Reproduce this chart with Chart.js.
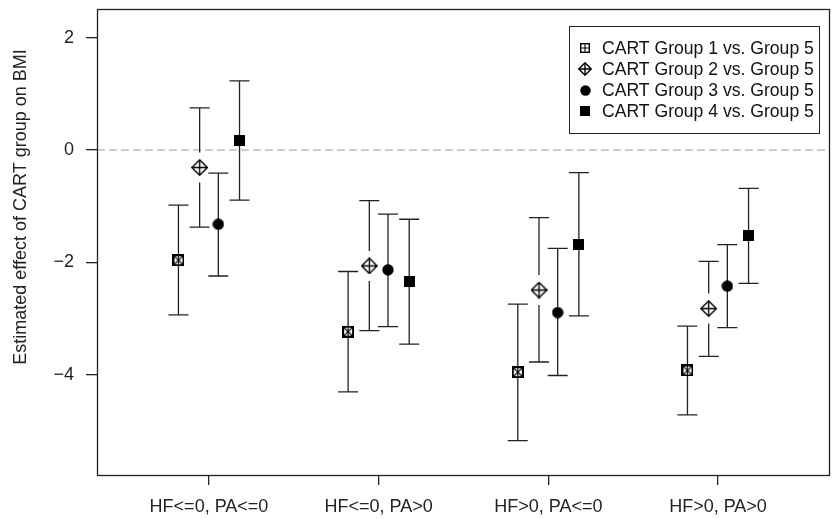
<!DOCTYPE html>
<html>
<head>
    <title>CART group effects on BMI</title>
    <script src="https://cdn.jsdelivr.net/npm/chart.js"></script>
    <style>
        html, body { margin: 0; padding: 0; background: white; overflow: hidden; }
        #wrap { width: 832px; height: 519px; overflow: hidden; }
        canvas { display: block; }
    </style>
</head>
<body>
    <div id="wrap">
        <canvas id="effectChart" width="837" height="519"></canvas>
    </div>

    <script>
        // categories and estimates (with 95% interval bounds) per CART group
        const categories = ['HF<=0, PA<=0', 'HF<=0, PA>0', 'HF>0, PA<=0', 'HF>0, PA>0'];
        const groupNames = ['CART Group 1 vs. Group 5', 'CART Group 2 vs. Group 5', 'CART Group 3 vs. Group 5', 'CART Group 4 vs. Group 5'];

        const est1 = [-1.96, -3.23, -3.95, -3.92];
        const lo1  = [-2.93, -4.30, -5.17, -4.71];
        const hi1  = [-0.98, -2.16, -2.74, -3.13];

        const est2 = [-0.31, -2.06, -2.49, -2.82];
        const lo2  = [-1.37, -3.21, -3.77, -3.67];
        const hi2  = [0.75, -0.90, -1.20, -1.98];

        const est3 = [-1.32, -2.13, -2.89, -2.42];
        const lo3  = [-2.24, -3.14, -4.01, -3.16];
        const hi3  = [-0.41, -1.14, -1.75, -1.68];

        const est4 = [0.17, -2.33, -1.68, -1.52];
        const lo4  = [-0.89, -3.45, -2.95, -2.37];
        const hi4  = [1.23, -1.23, -0.40, -0.68];

        const yTicks = [-4, -2, 0, 2];

        // dodge of each group around its category
        const dodge = [-0.18, -0.055, 0.055, 0.18];
        const FONT = '"Liberation Sans", Arial, sans-serif';

        // small canvases used as point symbols
        function makeMarker(kind, size) {
            const c = document.createElement('canvas');
            c.width = size; c.height = size;
            const g = c.getContext('2d');
            const m = size / 2;
            g.strokeStyle = '#000'; g.fillStyle = '#000';
            if (kind === 'boxX' || kind === 'boxPlus') {
                g.lineWidth = kind === 'boxX' ? 2 : 1.4;
                const o = g.lineWidth / 2;
                g.strokeRect(o, o, size - 2 * o, size - 2 * o);
                g.lineWidth = 1.1;
                g.beginPath();
                if (kind === 'boxX') {
                    g.moveTo(1, 1); g.lineTo(size - 1, size - 1);
                    g.moveTo(size - 1, 1); g.lineTo(1, size - 1);
                } else {
                    g.moveTo(m, 1); g.lineTo(m, size - 1);
                    g.moveTo(1, m); g.lineTo(size - 1, m);
                }
                g.stroke();
            } else if (kind === 'diamond') {
                g.lineWidth = 1.4;
                g.beginPath();
                g.moveTo(m, 0.8); g.lineTo(size - 0.8, m); g.lineTo(m, size - 0.8); g.lineTo(0.8, m); g.closePath();
                g.stroke();
                g.beginPath();
                g.moveTo(m, 1); g.lineTo(m, size - 1);
                g.moveTo(1, m); g.lineTo(size - 1, m);
                g.stroke();
            } else if (kind === 'circle') {
                g.beginPath(); g.arc(m, m, m - 0.3, 0, Math.PI * 2); g.fill();
            } else {
                g.fillRect(0, 0, size, size);
            }
            return c;
        }

        const plotMarkers = [makeMarker('boxX', 12), makeMarker('diamond', 17), makeMarker('circle', 12), makeMarker('square', 11)];
        const legendMarkers = [makeMarker('boxPlus', 10), makeMarker('diamond', 14), makeMarker('circle', 11), makeMarker('square', 10)];

        const estimates = [est1, est2, est3, est4];
        const lows = [lo1, lo2, lo3, lo4];
        const highs = [hi1, hi2, hi3, hi4];

        const datasets = estimates.map((est, g) => ({
            label: groupNames[g],
            data: est.map((v, i) => ({ x: i + 1 + dodge[g], y: v })),
            pointStyle: plotMarkers[g],
            pointRadius: 6,
            showLine: false
        }));

        // whiskers with caps, drawn under the symbols
        const errorBars = {
            id: 'errorBars',
            beforeDatasetsDraw(chart) {
                const ctx = chart.ctx;
                const ys = chart.scales.y;
                ctx.save();
                ctx.strokeStyle = '#222';
                ctx.lineWidth = 1.3;
                chart.data.datasets.forEach((ds, g) => {
                    const meta = chart.getDatasetMeta(g);
                    meta.data.forEach((pt, i) => {
                        const x = pt.x;
                        const yHi = ys.getPixelForValue(highs[g][i]);
                        const yLo = ys.getPixelForValue(lows[g][i]);
                        const yMid = ys.getPixelForValue(estimates[g][i]);
                        ctx.beginPath();
                        if (g === 1) {
                            // open diamond keeps a gap round it
                            ctx.moveTo(x, yHi); ctx.lineTo(x, yMid - 15);
                            ctx.moveTo(x, yMid + 15); ctx.lineTo(x, yLo);
                        } else {
                            ctx.moveTo(x, yHi); ctx.lineTo(x, yLo);
                        }
                        ctx.moveTo(x - 10, yHi); ctx.lineTo(x + 10, yHi);
                        ctx.moveTo(x - 10, yLo); ctx.lineTo(x + 10, yLo);
                        ctx.stroke();
                    });
                });
                ctx.restore();
            }
        };

        // frame, zero reference line, y title and legend
        const decorations = {
            id: 'decorations',
            beforeDatasetsDraw(chart) {
                const ctx = chart.ctx;
                const a = chart.chartArea;
                const y0 = chart.scales.y.getPixelForValue(0);
                ctx.save();
                ctx.strokeStyle = '#bdbdbd';
                ctx.lineWidth = 1.5;
                ctx.setLineDash([8, 4]);
                ctx.beginPath();
                ctx.moveTo(a.left, y0); ctx.lineTo(a.right, y0);
                ctx.stroke();
                ctx.restore();
            },
            afterDraw(chart) {
                const ctx = chart.ctx;
                const a = chart.chartArea;
                ctx.save();
                ctx.strokeStyle = '#222';
                ctx.lineWidth = 1.3;
                ctx.strokeRect(a.left + 0.5, a.top + 0.5, a.right - a.left - 1, a.bottom - a.top);

                ctx.fillStyle = '#222';
                ctx.font = '18px ' + FONT;
                ctx.textAlign = 'center';
                ctx.textBaseline = 'middle';
                ctx.translate(21, 207);
                ctx.rotate(-Math.PI / 2);
                ctx.fillText('Estimated effect of CART group on BMI', 0, 0);
                ctx.restore();

                // legend box in the upper right corner
                ctx.save();
                ctx.strokeStyle = '#222';
                ctx.lineWidth = 1;
                ctx.strokeRect(569.5, 26.5, 250, 107);
                ctx.fillStyle = '#111';
                ctx.font = '17.6px ' + FONT;
                ctx.textAlign = 'left';
                ctx.textBaseline = 'middle';
                groupNames.forEach((name, g) => {
                    const cy = 48 + g * 21;
                    const mk = legendMarkers[g];
                    ctx.drawImage(mk, Math.round(585 - mk.width / 2), Math.round(cy - mk.height / 2));
                    ctx.fillText(name, 602, cy + 1);
                });
                ctx.restore();
            }
        };

        new Chart(document.getElementById('effectChart'), {
            type: 'scatter',
            data: { datasets },
            options: {
                responsive: false,
                animation: false,
                layout: { padding: { top: 9, left: 0, right: 0, bottom: 0 } },
                plugins: { legend: { display: false }, tooltip: { enabled: false } },
                scales: {
                    x: {
                        type: 'linear',
                        min: 0.34,
                        max: 4.66,
                        afterBuildTicks: s => { s.ticks = categories.map((c, i) => ({ value: i + 1 })); },
                        afterFit: s => { s.height = 44; s.paddingLeft = 0; s.paddingRight = 0; },
                        grid: { drawOnChartArea: false, drawTicks: true, tickLength: 10, color: '#222', lineWidth: 1.3 },
                        border: { display: false },
                        ticks: {
                            color: '#222',
                            padding: 11,
                            maxRotation: 0,
                            autoSkip: false,
                            font: { family: FONT, size: 18 },
                            callback: v => categories[Math.round(v) - 1]
                        }
                    },
                    y: {
                        min: -5.78,
                        max: 2.51,
                        afterBuildTicks: s => { s.ticks = yTicks.map(v => ({ value: v })); },
                        afterFit: s => { s.width = 97; s.paddingTop = 0; s.paddingBottom = 0; },
                        grid: { drawOnChartArea: false, drawTicks: true, tickLength: 11, color: '#222', lineWidth: 1.3 },
                        border: { display: false },
                        ticks: {
                            color: '#222',
                            padding: 12,
                            font: { family: FONT, size: 18 },
                            callback: v => (v < 0 ? '\u2212' + Math.abs(v) : String(v))
                        }
                    }
                }
            },
            plugins: [decorations, errorBars]
        });
    </script>
</body>
</html>
